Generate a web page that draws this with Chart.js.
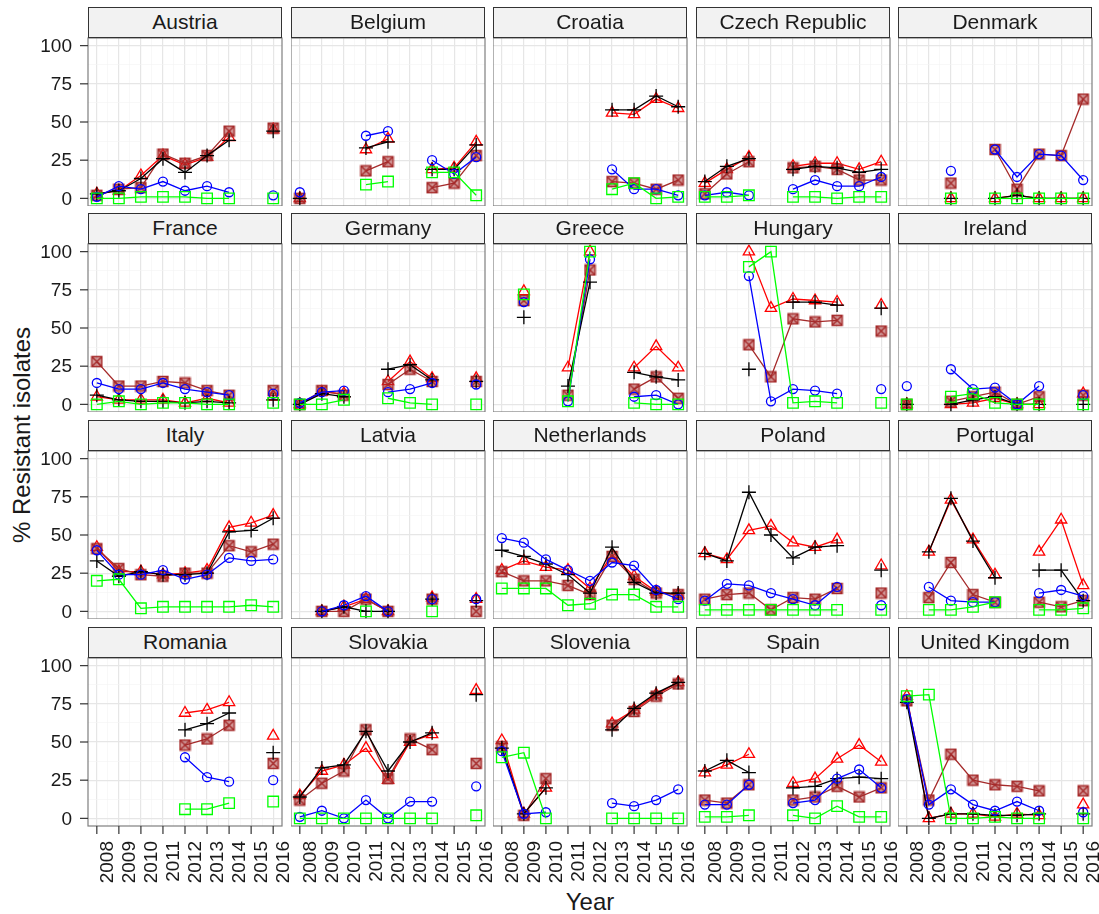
<!DOCTYPE html>
<html>
<head>
<meta charset="utf-8">
<script src="https://cdn.jsdelivr.net/npm/chart.js@4.4.1/dist/chart.umd.min.js"></script>
<style>
  html, body { margin: 0; padding: 0; background: #fff; }
  #wrap { position: relative; width: 1099px; height: 914px; overflow: hidden; font-family: "Liberation Sans", Arial, sans-serif; }
  #wrap canvas { position: absolute; }
  .strip { position: absolute; box-sizing: border-box; border: 1.3px solid #333; background: #f2f2f2;
           text-align: center; font-size: 21px; line-height: 28px; color: #1a1a1a; z-index: 5; }
  .title { position: absolute; font-size: 24px; color: #1a1a1a; text-align: center; white-space: nowrap; }
</style>
</head>
<body>
<div id="wrap">
  <div class="title" style="left:-128px; top:420px; width:300px; line-height:30px; transform:rotate(-90deg);">% Resistant isolates</div>
  <div class="title" style="left:490px; top:889px; width:200px; line-height:26px;">Year</div>
</div>
<script>
const years = [2008, 2009, 2010, 2011, 2012, 2013, 2014, 2015, 2016];
const countries = ['Austria', 'Belgium', 'Croatia', 'Czech Republic', 'Denmark',
  'France', 'Germany', 'Greece', 'Hungary', 'Ireland',
  'Italy', 'Latvia', 'Netherlands', 'Poland', 'Portugal',
  'Romania', 'Slovakia', 'Slovenia', 'Spain', 'United Kingdom'];
const yTicks = [0, 12.5, 25, 37.5, 50, 62.5, 75, 87.5, 100];
const yLabels = [0, 25, 50, 75, 100];
const xTicks = [2008, 2008.5, 2009, 2009.5, 2010, 2010.5, 2011, 2011.5, 2012, 2012.5, 2013, 2013.5, 2014, 2014.5, 2015, 2015.5, 2016];
const n = null;

// one row per country, one value per year (2008..2016)
const redTriangle = [
  [3, 5, 15, 28, 22, 27, 40, n, 45],
  [0, n, n, 32, 39, n, 19, 20, 37],
  [n, n, n, n, n, 56, 55, 65, 59],
  [10, 19, 27, n, 21, 23, 23, 19, 24],
  [n, n, 0, n, 0, 2, 0, 0, 0],
  [5, 3, 3, 3, 1, 4, 1, n, 5],
  [0, 8, 7, n, 15, 28, 17, n, 17],
  [n, 74, n, 24, 100, n, 24, 38, 24],
  [n, n, 100, 63, 69, 68, 67, n, 65],
  [0, n, 0, 1, 4, 0, 0, n, 7],
  [42, 26, 26, 24, 25, 27, 55, 58, 63],
  [n, 0, 3, 8, 0, n, 9, n, 8],
  [27, 33, 29, 27, 15, 37, 23, 13, 11],
  [38, 34, 53, 56, 45, 42, 47, n, 30],
  [n, 39, 73, 47, 24, n, 39, 60, 17],
  [n, n, n, n, 69, 71, 76, n, 54],
  [15, 31, 35, 46, 25, 50, 55, n, 84],
  [51, 3, 20, n, n, 62, 71, 81, 89],
  [30, 35, 42, n, 23, 26, 39, 48, 37],
  [80, 0, 3, 3, 1, 3, 2, n, 9]
];
const brownBoxCross = [
  [2, 6, 7, 29, 23, 28, 44, n, 46],
  [0, n, n, 18, 24, n, 7, 10, 28],
  [n, n, n, n, n, 11, 10, 6, 12],
  [3, 16, 24, n, 20, 21, 19, 12, 12],
  [n, n, 10, n, 32, 6, 29, 28, 65],
  [28, 12, 12, 15, 14, 9, 6, n, 9],
  [0, 9, 6, n, 13, 23, 15, n, 15],
  [n, 68, n, 6, 88, n, 10, 18, 4],
  [n, n, 39, 18, 56, 54, 55, n, 48],
  [0, n, 2, 5, 8, 0, 5, n, 6],
  [41, 28, 24, 23, 25, 25, 43, 39, 44],
  [n, 0, 0, 8, 0, n, 8, n, 0],
  [26, 20, 20, 17, 11, 36, 21, 12, 11],
  [8, 11, 12, 1, 9, 8, 15, n, 12],
  [n, 9, 32, 11, 6, n, 6, 3, 7],
  [n, n, n, n, 48, 52, 61, n, 36],
  [12, 23, 31, 58, 26, 52, 45, n, 36],
  [47, 2, 26, n, n, 61, 70, 80, 88],
  [12, 10, 22, n, 12, 14, 21, 14, 20],
  [77, 12, 42, 25, 22, 21, 18, n, 18]
];
const blackPlus = [
  [3, 5, 13, 26, 17, 28, 38, n, 44],
  [0, n, n, 33, 37, n, 19, 19, 35],
  [n, n, n, n, n, 58, 58, 67, 60],
  [11, 21, 26, n, 19, 21, 20, 17, 19],
  [n, n, 0, n, 0, 2, 0, 0, 0],
  [6, 3, 2, 2, 1, 2, 1, n, 3],
  [0, 7, 5, n, 23, 26, 16, n, 15],
  [n, 57, n, 12, 80, n, 21, 18, 16],
  [n, n, 23, n, 67, 67, 65, n, 63],
  [0, n, 0, 3, 5, 0, 0, n, 0],
  [33, 23, 26, 24, 24, 25, 52, 53, 61],
  [n, 0, 3, 0, 0, n, 8, n, 7],
  [40, 36, 31, 24, 12, 42, 19, 12, 12],
  [38, 33, 78, 50, 35, 42, 43, n, 27],
  [n, 39, 74, 46, 22, n, 27, 27, 7],
  [n, n, n, n, 58, 62, 69, n, 43],
  [14, 33, 35, 57, 31, 50, 56, n, 81],
  [46, 3, 20, n, n, 58, 72, 82, 89],
  [31, 38, 30, n, 20, 21, 26, 27, 26],
  [76, 0, 3, 3, 2, 2, 3, n, 3]
];
const blueCircle = [
  [1, 8, 6, 11, 5, 8, 4, n, 2],
  [4, n, n, 41, 44, n, 25, 16, 27],
  [n, n, n, n, n, 19, 6, 6, 2],
  [2, 4, 2, n, 6, 12, 8, 8, 14],
  [n, n, 18, n, 32, 14, 29, 28, 12],
  [14, 10, 10, 14, 10, 8, 6, n, 7],
  [1, 8, 9, n, 8, 10, 14, n, 13],
  [n, 67, n, 2, 95, n, 5, 6, 0],
  [n, n, 84, 2, 10, 9, 7, n, 10],
  [12, n, 23, 10, 11, 0, 12, n, 6],
  [40, 24, 24, 27, 21, 24, 35, 33, 34],
  [n, 0, 4, 10, 0, n, 8, n, 8],
  [48, 45, 34, 27, 20, 32, 30, 14, 8],
  [7, 18, 17, 12, 8, 4, 16, n, 4],
  [n, 16, 7, 6, 6, n, 12, 14, 10],
  [n, n, n, n, 40, 27, 24, n, 25],
  [1, 5, 0, 12, 0, 11, 11, n, 21],
  [44, 3, 4, n, n, 10, 8, 12, 19],
  [9, 9, 22, n, 10, 12, 26, 32, 20],
  [78, 9, 19, 9, 5, 11, 5, n, 4]
];
const greenSquare = [
  [0, 0, 1, 1, 1, 0, 0, n, 0],
  [n, n, n, 9, 11, n, 17, 17, 2],
  [n, n, n, n, n, 6, 10, 0, 1],
  [1, 1, 2, n, 1, 1, 0, 1, 1],
  [n, n, 0, n, 0, 0, 0, 0, 0],
  [0, 2, 0, 1, 1, 0, 0, n, 1],
  [0, 0, 3, n, 4, 1, 0, n, 0],
  [n, 72, n, 2, 100, n, 1, 0, 0],
  [n, n, 90, 100, 1, 2, 1, n, 1],
  [0, n, 5, 7, 1, 0, 0, n, 0],
  [20, 21, 2, 3, 3, 3, 3, 4, 3],
  [n, n, n, 0, n, n, 0, n, n],
  [15, 15, 15, 4, 5, 11, 11, 3, 3],
  [1, 1, 1, 1, 1, 1, 1, n, 1],
  [n, 1, 1, 3, 6, n, 1, 1, 2],
  [n, n, n, n, 6, 6, 10, n, 11],
  [0, 0, 0, 0, 0, 0, 0, n, 2],
  [40, 43, 0, n, n, 0, 0, 0, 0],
  [1, 1, 2, n, 2, 0, 8, 1, 1],
  [80, 81, 0, 0, 1, 0, 0, n, 0]
];

// layout of the facet grid
const W = 194, H = 168, STRIP = 31, PADT = 12, PADR = 14;
const AXIS_W = 88, AXIS_H = 80;
const colLeft = [88, 291, 493, 696, 898];
const stripTop = [7, 213, 420, 627];
const FONT = '"Liberation Sans", Arial, sans-serif';

// square with a cross, brown
function boxCross() {
  const c = document.createElement('canvas');
  c.width = 13; c.height = 13;
  const g = c.getContext('2d');
  g.fillStyle = 'rgba(165,42,42,0.45)';
  g.fillRect(1.5, 1.5, 10, 10);
  g.strokeStyle = '#A52A2A';
  g.lineWidth = 1.5;
  g.strokeRect(1.5, 1.5, 10, 10);
  g.beginPath();
  g.moveTo(2, 2); g.lineTo(11, 11);
  g.moveTo(11, 2); g.lineTo(2, 11);
  g.stroke();
  return c;
}

// first one is drawn on top
const series = [
  { values: greenSquare, color: '#00FF00', style: 'rect', r: 7.5 },
  { values: blueCircle, color: '#0000FF', style: 'circle', r: 4.5 },
  { values: blackPlus, color: '#000000', style: 'cross', r: 7 },
  { values: brownBoxCross, color: '#A52A2A', style: boxCross(), r: 6 },
  { values: redTriangle, color: '#FF0000', style: 'triangle', r: 6.5 }
];

const frame = {
  id: 'frame',
  afterDraw(chart) {
    const a = chart.chartArea, g = chart.ctx;
    g.save();
    g.strokeStyle = '#7f7f7f';
    g.lineWidth = 1.2;
    g.strokeRect(a.left, a.top, a.right - a.left, a.bottom - a.top);
    g.restore();
  }
};

// y tick marks and labels for the left column, placed by the y scale
const yAxisLabels = {
  id: 'yAxisLabels',
  afterDraw(chart) {
    const a = chart.chartArea, s = chart.scales.y, g = chart.ctx;
    g.save();
    g.strokeStyle = '#333333';
    g.lineWidth = 1.2;
    g.fillStyle = '#1a1a1a';
    g.font = '19px ' + FONT;
    g.textAlign = 'right';
    g.textBaseline = 'middle';
    yLabels.forEach(v => {
      const y = s.getPixelForValue(v);
      g.beginPath();
      g.moveTo(a.left - 8, y);
      g.lineTo(a.left, y);
      g.stroke();
      g.fillText(String(v), a.left - 16, y + 1);
    });
    g.restore();
  }
};

// x tick marks and rotated year labels for the bottom row, placed by the x scale
const xAxisLabels = {
  id: 'xAxisLabels',
  afterDraw(chart) {
    const a = chart.chartArea, s = chart.scales.x, g = chart.ctx;
    g.save();
    g.strokeStyle = '#333333';
    g.lineWidth = 1.2;
    g.fillStyle = '#1a1a1a';
    g.font = '19px ' + FONT;
    g.textAlign = 'right';
    g.textBaseline = 'middle';
    years.forEach(yr => {
      const x = s.getPixelForValue(yr);
      g.beginPath();
      g.moveTo(x, a.bottom);
      g.lineTo(x, a.bottom + 8);
      g.stroke();
      g.save();
      g.translate(x + 11, a.bottom + 15);
      g.rotate(-Math.PI / 2);
      g.fillText(String(yr), 0, 0);
      g.restore();
    });
    g.restore();
  }
};

const wrap = document.getElementById('wrap');
const majorY = v => v % 25 === 0;
const majorX = v => Number.isInteger(v);

countries.forEach((name, c) => {
  const col = c % 5, row = Math.floor(c / 5);
  const isLeft = col === 0, isBottom = row === 3;
  const leftW = isLeft ? AXIS_W : 0;
  const botH = isBottom ? AXIS_H : 0;

  const strip = document.createElement('div');
  strip.className = 'strip';
  strip.style.left = colLeft[col] + 'px';
  strip.style.top = stripTop[row] + 'px';
  strip.style.width = W + 'px';
  strip.style.height = STRIP + 'px';
  strip.textContent = name;
  wrap.appendChild(strip);

  const cv = document.createElement('canvas');
  cv.width = leftW + W + PADR;
  cv.height = PADT + H + botH;
  cv.style.width = cv.width + 'px';
  cv.style.height = cv.height + 'px';
  cv.style.left = (colLeft[col] - leftW) + 'px';
  cv.style.top = (stripTop[row] + STRIP - PADT) + 'px';
  wrap.appendChild(cv);

  const datasets = series.map(s => ({
    data: years.map((yr, i) => ({ x: yr, y: s.values[c][i] })),
    borderColor: s.color,
    backgroundColor: 'rgba(0,0,0,0)',
    borderWidth: 1.3,
    pointStyle: s.style,
    pointRadius: s.r,
    pointBorderColor: s.color,
    pointBackgroundColor: 'rgba(0,0,0,0)',
    pointBorderWidth: 1.3,
    tension: 0,
    spanGaps: false
  }));

  const plugins = [frame];
  if (isLeft) plugins.push(yAxisLabels);
  if (isBottom) plugins.push(xAxisLabels);

  new Chart(cv, {
    type: 'line',
    data: { datasets },
    options: {
      responsive: false,
      animation: false,
      events: [],
      layout: { autoPadding: false, padding: { top: PADT, right: PADR, left: leftW, bottom: botH } },
      plugins: { legend: { display: false }, tooltip: { enabled: false } },
      scales: {
        x: {
          type: 'linear',
          min: 2007.6,
          max: 2016.4,
          afterBuildTicks: s => { s.ticks = xTicks.map(v => ({ value: v })); },
          afterFit: s => { s.height = 0; },
          border: { display: false },
          grid: {
            color: ctx => (ctx.tick && majorX(ctx.tick.value)) ? '#e6e6e6' : '#f3f3f3',
            lineWidth: ctx => (ctx.tick && majorX(ctx.tick.value)) ? 1.2 : 0.6,
            drawTicks: false
          },
          ticks: { display: false, autoSkip: false }
        },
        y: {
          min: -5,
          max: 105,
          afterBuildTicks: s => { s.ticks = yTicks.map(v => ({ value: v })); },
          afterFit: s => { s.width = 0; },
          border: { display: false },
          grid: {
            color: ctx => (ctx.tick && majorY(ctx.tick.value)) ? '#e6e6e6' : '#f3f3f3',
            lineWidth: ctx => (ctx.tick && majorY(ctx.tick.value)) ? 1.2 : 0.6,
            drawTicks: false
          },
          ticks: { display: false, autoSkip: false }
        }
      }
    },
    plugins
  });
});
</script>
</body>
</html>
